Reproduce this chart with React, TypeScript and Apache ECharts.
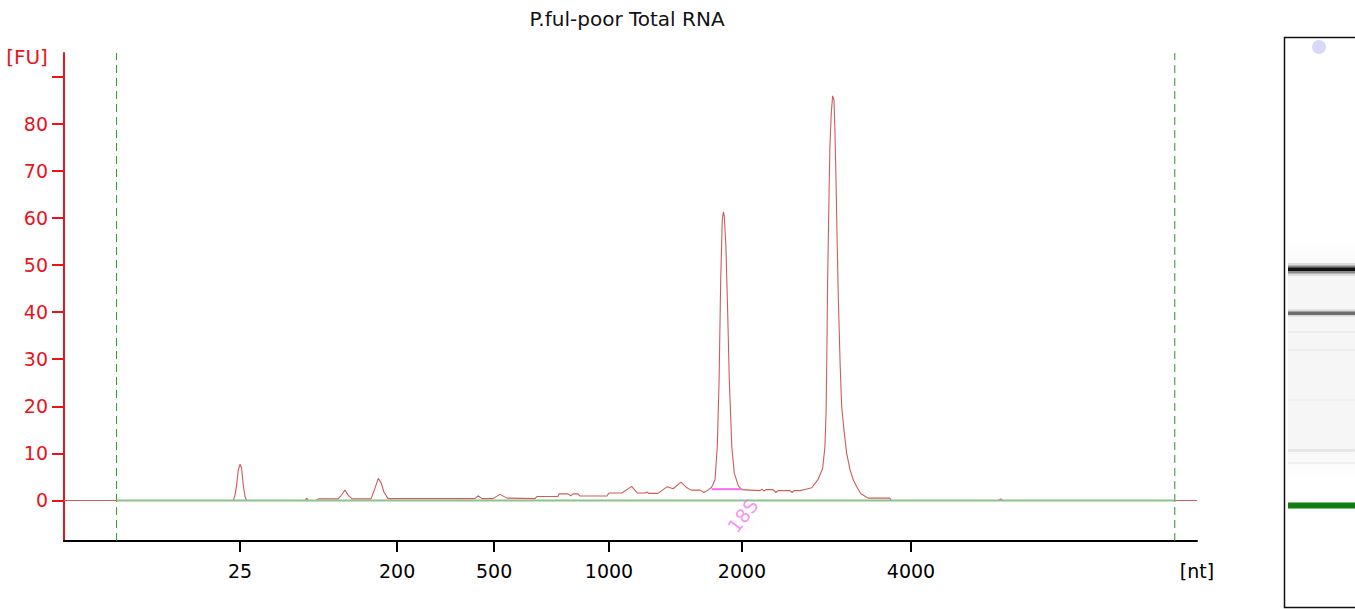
import React, { useEffect, useRef } from "react";
import * as echarts from "echarts";

// ---------- data ----------
const TITLE = "P.ful-poor Total RNA";
const X_MIN = 19; // migration time [s]
const X_MAX = 69;
const Y_MIN = -8.6;
const Y_MAX = 95;

// ladder positions (migration time) and their size labels [nt]
const ladderTimes = [26.77, 33.7, 37.98, 43.05, 48.92, 56.38];
const ladderLabels = ["25", "200", "500", "1000", "2000", "4000"];
const unitLabel = "[nt]";

const yTickValues = [0, 10, 20, 30, 40, 50, 60, 70, 80, 90];
const yLabelValues = [0, 10, 20, 30, 40, 50, 60, 70, 80];

const lowerMarkerTime = 21.32;
const upperMarkerTime = 68.02;

// electropherogram: [time s, fluorescence FU]
const trace: [number, number][] = [
  [19.0, 0], [26.47, 0], [26.55, 1.2], [26.62, 3.3], [26.69, 6.5], [26.77, 7.7],
  [26.84, 6.8], [26.91, 3.3], [26.99, 0.8], [27.06, 0], [29.64, 0], [29.71, 0.5],
  [29.79, 0], [30.12, 0], [30.22, 0.35], [31.09, 0.35], [31.22, 1.0], [31.4, 2.2],
  [31.53, 1.2], [31.71, 0.35], [32.55, 0.35], [32.68, 2.0], [32.87, 4.7], [32.99, 3.8],
  [33.12, 1.8], [33.3, 0.4], [37.14, 0.4], [37.27, 1.0], [37.45, 0.4], [37.93, 0.4],
  [38.24, 1.3], [38.55, 0.5], [39.79, 0.4], [39.87, 0.85], [40.8, 0.85], [40.84, 1.4],
  [41.24, 1.4], [41.37, 1.0], [41.46, 1.4], [41.68, 1.4], [41.77, 0.95], [42.96, 0.95],
  [43.05, 1.6], [43.62, 1.6], [44.05, 3.0], [44.29, 1.6], [44.64, 1.6], [44.73, 1.8],
  [44.82, 1.5], [45.21, 1.5], [45.61, 2.9], [45.88, 2.5], [46.23, 3.9], [46.49, 2.7],
  [46.67, 2.2], [47.07, 2.2], [47.24, 1.7], [47.42, 2.2], [47.58, 2.8], [47.73, 4.4],
  [47.83, 11.4], [47.91, 25.6], [47.98, 46.8], [48.05, 59.6], [48.1, 61.3], [48.14, 60.3],
  [48.21, 53.9], [48.29, 39.7], [48.36, 25.6], [48.47, 11.4], [48.58, 5.8], [48.76, 3.1],
  [48.91, 2.3], [49.72, 2.1], [49.8, 2.4], [49.89, 2.0], [49.98, 2.3], [50.29, 2.3],
  [50.42, 1.7], [50.51, 2.1], [51.04, 2.1], [51.13, 1.7], [51.22, 2.1], [51.48, 2.1],
  [51.74, 2.4], [52.0, 2.7], [52.29, 4.6], [52.48, 6.8], [52.58, 11.4], [52.63, 18.5],
  [52.66, 29.1], [52.7, 46.8], [52.76, 64.5], [52.8, 75.1], [52.86, 82.2], [52.92, 85.9],
  [52.98, 85.0], [53.02, 78.7], [53.07, 68.0], [53.11, 57.4], [53.17, 43.3], [53.25, 29.1],
  [53.32, 19.9], [53.42, 15.0], [53.54, 10.0], [53.69, 6.5], [53.83, 4.4], [53.98, 2.9],
  [54.16, 1.5], [54.35, 0.9], [54.48, 0.5], [55.45, 0.5], [55.5, 0], [60.22, 0],
  [60.34, 0.3], [60.44, 0], [69.0, 0],
];

// 18S peak integration bar and label
const peak18SStart = 47.58;
const peak18SEnd = 48.91;
const peak18SLevel = 2.4;
const peak18SLabel = "18S";
const peak18SLabelPos: [number, number] = [48.95, -3.2];

// ---------- component ----------
export default function App() {
  const ref = useRef<HTMLDivElement>(null);

  useEffect(() => {
    if (!ref.current) return;
    const chart = echarts.init(ref.current, null, { renderer: "svg" });
    const font = "DejaVu Sans";
    const red = "#e8141c";
    const markerGreen = "#2f8f2f";

    const xLabelValues = [...ladderTimes, X_MAX];
    const xLabelText = (v: number) => {
      const i = ladderTimes.findIndex((t) => Math.abs(t - v) < 1e-6);
      if (i >= 0) return ladderLabels[i];
      return Math.abs(v - X_MAX) < 1e-6 ? unitLabel : "";
    };

    const markerSeries = [lowerMarkerTime, upperMarkerTime].map((t) => ({
      type: "line",
      data: [
        [t, Y_MIN],
        [t, Y_MAX],
      ],
      symbol: "none",
      silent: true,
      lineStyle: { color: markerGreen, width: 1, type: [8, 5] },
      z: 1,
    }));

    const gelBg = new echarts.graphic.LinearGradient(0, 0, 0, 1, [
      { offset: 0, color: "#ffffff" },
      { offset: 0.15, color: "#f6f6f6" },
      { offset: 0.85, color: "#f6f6f6" },
      { offset: 1, color: "#ffffff" },
    ]);

    chart.setOption({
      animation: false,
      grid: { left: 64, right: 158, top: 53, bottom: 68 },
      xAxis: {
        type: "value",
        min: X_MIN,
        max: X_MAX,
        axisLine: { onZero: false, lineStyle: { color: "#000", width: 2 } },
        axisTick: {
          show: true,
          length: 11,
          customValues: ladderTimes,
          lineStyle: { color: "#000", width: 2 },
        },
        axisLabel: {
          customValues: xLabelValues,
          formatter: xLabelText,
          color: "#000",
          fontFamily: font,
          fontSize: 19,
          margin: 20,
        },
        splitLine: { show: false },
      },
      yAxis: {
        type: "value",
        min: Y_MIN,
        max: Y_MAX,
        axisLine: { show: true, onZero: false, lineStyle: { color: red, width: 2 } },
        axisTick: {
          show: true,
          length: 12,
          customValues: yTickValues,
          lineStyle: { color: red, width: 2 },
        },
        axisLabel: {
          customValues: yLabelValues,
          color: red,
          fontFamily: font,
          fontSize: 19,
          margin: 16,
        },
        splitLine: { show: false },
      },
      graphic: [
        {
          type: "text",
          x: 627,
          y: 19,
          style: {
            text: TITLE,
            fill: "#111",
            font: `20px '${font}'`,
            align: "center",
            verticalAlign: "middle",
          },
        },
        {
          type: "text",
          x: 27,
          y: 57,
          style: {
            text: "[FU]",
            fill: red,
            font: `20px '${font}'`,
            align: "center",
            verticalAlign: "middle",
          },
        },
        // gel image
        {
          type: "group",
          children: [
            {
              type: "rect",
              shape: { x: 1284.5, y: 37.5, width: 90, height: 570 },
              style: { fill: "#fff", stroke: "#111", lineWidth: 1.5 },
            },
            {
              type: "rect",
              shape: { x: 1288, y: 240, width: 67, height: 240 },
              style: { fill: gelBg },
            },
            { type: "circle", shape: { cx: 1319, cy: 47, r: 7 }, style: { fill: "#d8d8f8" } },
            { type: "rect", shape: { x: 1288, y: 263, width: 67, height: 13 }, style: { fill: "#dcdcdc" } },
            { type: "rect", shape: { x: 1288, y: 265.5, width: 67, height: 8 }, style: { fill: "#8a8a8a" } },
            { type: "rect", shape: { x: 1288, y: 267.5, width: 67, height: 3.5 }, style: { fill: "#111" } },
            { type: "rect", shape: { x: 1288, y: 309.5, width: 67, height: 7 }, style: { fill: "#d8d8d8" } },
            { type: "rect", shape: { x: 1288, y: 311.5, width: 67, height: 3.5 }, style: { fill: "#6e6e6e" } },
            { type: "rect", shape: { x: 1288, y: 331, width: 67, height: 2 }, style: { fill: "#efefef" } },
            { type: "rect", shape: { x: 1288, y: 349, width: 67, height: 2 }, style: { fill: "#f0f0f0" } },
            { type: "rect", shape: { x: 1288, y: 399, width: 67, height: 2 }, style: { fill: "#f0f0f0" } },
            { type: "rect", shape: { x: 1288, y: 449, width: 67, height: 3 }, style: { fill: "#e8e8e8" } },
            { type: "rect", shape: { x: 1288, y: 462, width: 67, height: 2 }, style: { fill: "#f0f0f0" } },
            { type: "rect", shape: { x: 1288, y: 502.5, width: 67, height: 6 }, style: { fill: "#0f7d0f" } },
          ],
        },
      ],
      series: [
        ...markerSeries,
        {
          type: "line",
          name: "trace",
          data: trace,
          showSymbol: false,
          symbol: "none",
          lineStyle: { color: "#cd5c5c", width: 1.1 },
          z: 2,
        },
        {
          type: "line",
          name: "baseline",
          data: [
            [lowerMarkerTime, 0],
            [upperMarkerTime, 0],
          ],
          symbol: "none",
          lineStyle: { color: "#8cc48c", width: 2 },
          z: 3,
        },
        {
          type: "line",
          name: "18S",
          data: [
            [peak18SStart, peak18SLevel],
            [peak18SEnd, peak18SLevel],
          ],
          symbol: "none",
          lineStyle: { color: "#f06cf0", width: 2 },
          z: 4,
        },
        {
          type: "scatter",
          data: [peak18SLabelPos],
          symbolSize: 0,
          z: 5,
          label: {
            show: true,
            position: "inside",
            formatter: peak18SLabel,
            rotate: 52,
            color: "#f07af0",
            fontFamily: font,
            fontSize: 19,
          },
        },
      ],
    });

    return () => chart.dispose();
  }, []);

  return (
    <div
      ref={ref}
      style={{ position: "absolute", left: 0, top: 0, width: 1355, height: 609 }}
    />
  );
}
